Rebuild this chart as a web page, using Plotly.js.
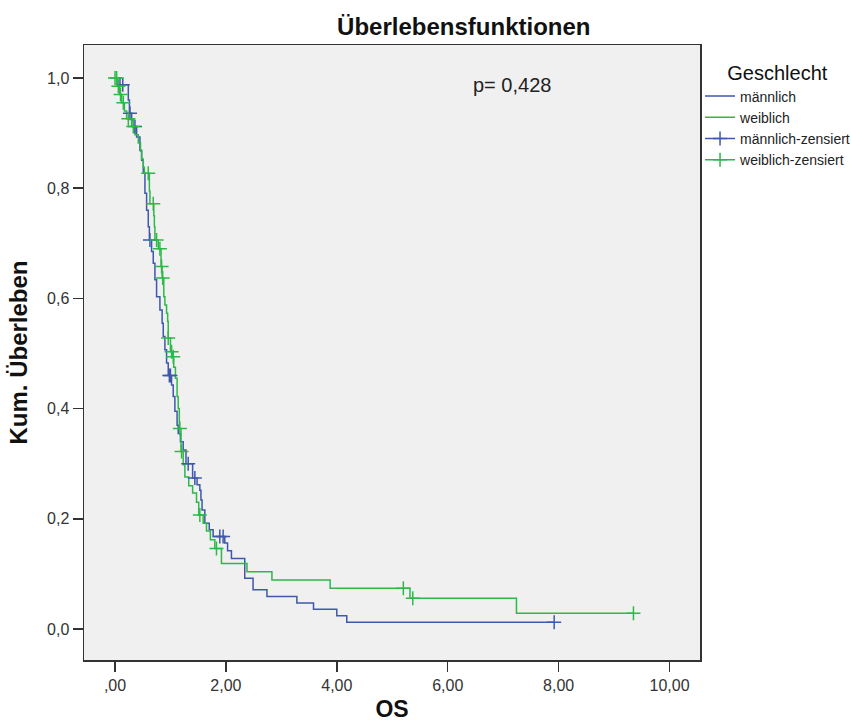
<!DOCTYPE html>
<html>
<head>
<meta charset="utf-8">
<script src="https://cdn.plot.ly/plotly-3.0.1.min.js"></script>
<style>html,body{margin:0;padding:0;background:#fff;}#chart{width:851px;height:726px;}</style>
</head>
<body>
<div id="chart"></div>
<script>
// ---- Data ----
const maleTime = [0, 0.09, 0.24, 0.26, 0.30, 0.33, 0.39, 0.45, 0.48, 0.51, 0.54, 0.57, 0.60, 0.62, 0.66, 0.69, 0.72, 0.75, 0.81, 0.85, 0.87, 0.90, 0.93, 0.96, 1.02, 1.05, 1.08, 1.12, 1.14, 1.18, 1.23, 1.28, 1.40, 1.48, 1.53, 1.55, 1.57, 1.62, 1.70, 1.77, 1.98, 2.03, 2.10, 2.34, 2.49, 2.74, 3.28, 3.58, 4.00, 4.18, 7.92];
const maleSurv = [1.0, 0.988, 0.960, 0.936, 0.924, 0.912, 0.893, 0.869, 0.851, 0.827, 0.791, 0.760, 0.730, 0.706, 0.685, 0.664, 0.634, 0.603, 0.579, 0.555, 0.531, 0.507, 0.483, 0.460, 0.443, 0.422, 0.395, 0.370, 0.355, 0.340, 0.325, 0.300, 0.274, 0.262, 0.252, 0.234, 0.216, 0.192, 0.180, 0.168, 0.156, 0.142, 0.128, 0.092, 0.071, 0.059, 0.047, 0.036, 0.024, 0.012, 0.012];
const maleCensTime = [0.14, 0.27, 0.36, 0.63, 0.98, 1.00, 1.32, 1.44, 1.89, 1.95, 7.92];
const maleCensSurv = [0.988, 0.936, 0.912, 0.706, 0.460, 0.460, 0.300, 0.274, 0.168, 0.168, 0.012];

const femaleTime = [0, 0.04, 0.08, 0.12, 0.17, 0.21, 0.30, 0.36, 0.42, 0.46, 0.48, 0.51, 0.53, 0.62, 0.63, 0.70, 0.71, 0.72, 0.78, 0.83, 0.85, 0.88, 0.90, 0.93, 0.95, 0.96, 1.00, 1.04, 1.06, 1.09, 1.12, 1.14, 1.16, 1.19, 1.23, 1.26, 1.33, 1.40, 1.47, 1.51, 1.59, 1.65, 1.72, 1.80, 1.92, 2.38, 2.83, 3.88, 5.32, 7.24, 9.35];
const femaleSurv = [1.0, 0.985, 0.970, 0.955, 0.940, 0.926, 0.912, 0.897, 0.882, 0.867, 0.853, 0.838, 0.827, 0.795, 0.772, 0.750, 0.730, 0.706, 0.690, 0.658, 0.637, 0.603, 0.588, 0.573, 0.558, 0.528, 0.503, 0.494, 0.475, 0.455, 0.422, 0.400, 0.364, 0.322, 0.298, 0.276, 0.260, 0.247, 0.230, 0.207, 0.192, 0.178, 0.162, 0.146, 0.119, 0.104, 0.089, 0.074, 0.0557, 0.0285, 0.0285];
const femaleCensTime = [0.00, 0.03, 0.06, 0.10, 0.15, 0.24, 0.33, 0.60, 0.69, 0.75, 0.81, 0.84, 0.86, 0.96, 1.02, 1.05, 1.17, 1.20, 1.53, 1.83, 5.20, 5.37, 9.35];
const femaleCensSurv = [1.0, 1.0, 0.985, 0.970, 0.955, 0.926, 0.912, 0.827, 0.772, 0.706, 0.690, 0.658, 0.637, 0.528, 0.503, 0.494, 0.364, 0.322, 0.207, 0.146, 0.074, 0.0557, 0.0285];

const groupNames = ['männlich', 'weiblich', 'männlich-zensiert', 'weiblich-zensiert'];
const xTickVals = [0, 2, 4, 6, 8, 10];
const xTickText = [',00', '2,00', '4,00', '6,00', '8,00', '10,00'];
const yTickVals = [0, 0.2, 0.4, 0.6, 0.8, 1.0];
const yTickText = ['0,0', '0,2', '0,4', '0,6', '0,8', '1,0'];
const chartTitle = 'Überlebensfunktionen';
const xTitle = 'OS';
const yTitle = 'Kum. Überleben';
const legendTitle = 'Geschlecht';
const pText = 'p= 0,428';

// ---- Styles ----
const BLUE = '#3e58ac';
const GREEN = '#2eb848';
const FONT = 'Liberation Sans, Arial, sans-serif';

// interleave nulls so censor markers are not joined by lines
function gapped(arr) {
  const out = [];
  arr.forEach((v, i) => { out.push(v); if (i < arr.length - 1) out.push(null); });
  return out;
}

const traces = [
  {x: maleTime, y: maleSurv, name: groupNames[0], mode: 'lines', line: {shape: 'hv', color: BLUE, width: 1.5}},
  {x: femaleTime, y: femaleSurv, name: groupNames[1], mode: 'lines', line: {shape: 'hv', color: GREEN, width: 1.5}},
  {x: gapped(maleCensTime), y: gapped(maleCensSurv), name: groupNames[2], mode: 'lines+markers', connectgaps: false,
   line: {color: BLUE, width: 1.5}, marker: {symbol: 'cross-thin', size: 10, line: {color: BLUE, width: 1.5}}},
  {x: gapped(femaleCensTime), y: gapped(femaleCensSurv), name: groupNames[3], mode: 'lines+markers', connectgaps: false,
   line: {color: GREEN, width: 1.5}, marker: {symbol: 'cross-thin', size: 10, line: {color: GREEN, width: 1.5}}}
];

const layout = {
  width: 851, height: 726,
  margin: {l: 84, r: 151, t: 45, b: 66},
  paper_bgcolor: '#ffffff',
  plot_bgcolor: '#f0f0f0',
  font: {family: FONT, color: '#222', size: 16},
  showlegend: true,
  title: {text: chartTitle, x: 0.545, xanchor: 'center', y: 0.963, yanchor: 'middle',
          font: {family: FONT, size: 24, color: '#111', weight: 'bold'}},
  xaxis: {
    range: [-0.559, 10.55], tickvals: xTickVals, ticktext: xTickText,
    ticks: 'outside', ticklen: 10, tickwidth: 1.5, tickcolor: '#333',
    showline: true, linecolor: '#333', linewidth: 1.5, mirror: true,
    showgrid: false, zeroline: false, automargin: false,
    tickfont: {family: FONT, size: 16, color: '#333'},
    title: {text: xTitle, standoff: 8, font: {family: FONT, size: 23, color: '#111', weight: 'bold'}}
  },
  yaxis: {
    range: [-0.0563, 1.060], tickvals: yTickVals, ticktext: yTickText,
    ticks: 'outside', ticklen: 10, tickwidth: 1.5, tickcolor: '#333',
    showline: true, linecolor: '#333', linewidth: 1.5, mirror: true,
    showgrid: false, zeroline: false, automargin: false,
    tickfont: {family: FONT, size: 16, color: '#333'},
    title: {text: yTitle, standoff: 12, font: {family: FONT, size: 24, color: '#111', weight: 'bold'}}
  },
  legend: {
    xref: 'container', yref: 'container',
    x: 0.8226, xanchor: 'left', y: 0.925, yanchor: 'top',
    bgcolor: 'rgba(0,0,0,0)', borderwidth: 0,
    font: {family: FONT, size: 14, color: '#222'},
    title: {text: legendTitle, side: 'top center', font: {family: FONT, size: 20, color: '#111'}},
    tracegroupgap: 0, itemwidth: 30
  },
  annotations: [
    {text: pText, xref: 'x', yref: 'y', x: 7.16, y: 0.987, showarrow: false,
     xanchor: 'center', yanchor: 'middle', font: {family: FONT, size: 20, color: '#222'}}
  ]
};

Plotly.newPlot('chart', traces, layout, {displayModeBar: false, staticPlot: true});
</script>
</body>
</html>
